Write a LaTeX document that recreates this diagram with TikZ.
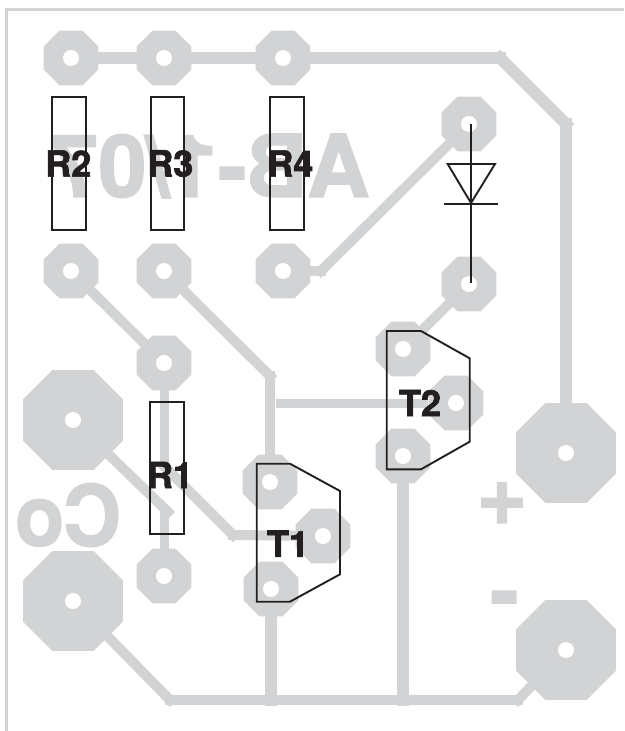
\documentclass[tikz,border=0pt]{standalone}
\usepackage{fontspec}
\setmainfont{TeX Gyre Heros}[BoldFeatures={FakeBold=2}]
\usetikzlibrary{shapes.geometric}
\definecolor{boardgrey}{HTML}{D1D3D4}
\definecolor{partblack}{HTML}{231F20}
\tikzset{
  smallpad/.style={regular polygon, regular polygon sides=8,
    fill=boardgrey, inner sep=0pt, minimum size=59.5pt,
    path picture={\fill[white] (path picture bounding box.center) circle (8pt);}},
  bigpad/.style={smallpad, minimum size=108pt},
  trace/.style={draw=boardgrey, line width=10pt, line cap=rect},
  widetrace/.style={trace, line width=12pt},
  part/.style={draw=partblack, line width=1.9pt, line join=miter},
  partname/.style={text=partblack, font=\bfseries\fontsize{36}{36}\selectfont, inner sep=0pt},
  boardtext/.style={text=boardgrey, font=\bfseries\fontsize{86}{86}\selectfont, inner sep=0pt},
}
\begin{document}
\begin{tikzpicture}[x=1pt,y=-1pt]
\useasboundingbox (0,0) rectangle (624,731);
\draw[draw=boardgrey, line width=3pt] (6.5,731)--(6.5,9)--(624,9);

\node[boardtext, xscale=-0.95, font=\bfseries\fontsize{84}{84}\selectfont] (capname) at (68,515) {Co};
\node[boardtext, xscale=-1] (boardcode) at (210,166) {AB-1/07};
\node[boardtext] (plus) at (502,503.5) {+};
\node[boardtext] (minus) at (504.5,606) {-};

\foreach \padname/\x/\y in {top2/71/58, top3/164/58, top4/283/58,
    low2/71/271, low3/164/271, low4/283/271,
    diodeA/469/124, diodeK/469/284,
    r1top/164/363, r1low/164/576,
    t2c/403/349, t2b/456/403, t2e/403/456,
    t1c/270/482, t1b/323/536, t1e/271/589}
  \node[smallpad] (\padname) at (\x,\y) {};
\foreach \padname/\x/\y in {capA/73/420, capB/73/601, plusin/566/453, minusin/566/650}
  \node[bigpad] (\padname) at (\x,\y) {};

\coordinate (topbend) at (500,58);
\coordinate (sidebend) at (566,124);
\coordinate (ledbend) at (321,271);
\coordinate (basebend) at (270,376);
\coordinate (basefree) at (276,403);
\coordinate (r1bend) at (164,466);
\coordinate (t1bend) at (233,535);
\coordinate (capbend) at (168,512);
\coordinate (capdrop) at (164,512);
\coordinate (gndleft) at (170,700);
\coordinate (gndright) at (518,700);
\coordinate (t1foot) at (271,700);
\coordinate (t2foot) at (403,700);

\draw[widetrace] (top2)--(top3);
\draw[widetrace] (top3)--(top4);
\draw[widetrace] (top4)--(topbend);
\draw[widetrace] (topbend)--(sidebend);
\draw[widetrace] (sidebend)--(plusin);
\draw[trace] (low4)--(ledbend);
\draw[trace] (ledbend)--(diodeA);
\draw[trace] (low2)--(r1top);
\draw[trace] (low3)--(basebend);
\draw[trace] (basebend)--(t1c);
\draw[trace, line width=9pt, line cap=butt] (basefree)--(t2b);
\draw[trace, line width=9pt] (r1top)--(r1bend);
\draw[trace] (r1bend)--(t1bend);
\draw[trace] (t1bend)--(t1b);
\draw[trace] (capA)--(capbend);
\draw[trace, line width=9pt] (capdrop)--(r1low);
\draw[trace] (capB)--(gndleft);
\draw[trace] (gndleft)--(gndright);
\draw[trace] (gndright)--(minusin);
\draw[widetrace] (t1e)--(t1foot);
\draw[widetrace] (t2e)--(t2foot);
\draw[trace] (diodeK)--(t2c);

\draw[part] (51.7,97.3) rectangle (85.7,230);
\draw[part] (150.7,97.3) rectangle (184.3,230);
\draw[part] (270,97.3) rectangle (304,230);
\draw[part] (150.3,402.3) rectangle (184,534.3);
\draw[part] (256.7,463.7)--(290,463.7)--(340,491)--(340,574.3)--(290,601.7)--(256.7,601.7)--cycle;
\draw[part] (386.7,331)--(421,331)--(469.7,358.3)--(469.7,441.7)--(421,469.3)--(386.7,469.3)--cycle;

\coordinate (ledtop) at (471,124);
\coordinate (ledtip) at (471,203);
\coordinate (ledend) at (471,283);
\draw[part] (ledtop)--(ledend);
\draw[part] (447.7,164)--(495,164)--(ledtip)--cycle;
\draw[part] (444.3,203.7)--(498,203.7);

\node[partname] (r2name) at (68.3,163.5) {R2};
\node[partname] (r3name) at (170.3,163.5) {R3};
\node[partname] (r4name) at (290.3,163.5) {R4};
\node[partname] (r1name) at (170,475) {R1};
\node[partname] (t1name) at (288,543.7) {T1};
\node[partname] (t2name) at (420,403) {T2};
\end{tikzpicture}
\end{document}
